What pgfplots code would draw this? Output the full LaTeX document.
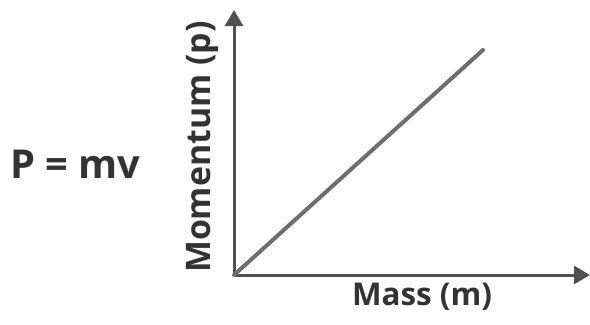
\documentclass[border=0pt]{standalone}
\usepackage{pgfplots}
\pgfplotsset{compat=1.18}
\usepackage{fontspec}
\setmainfont{Open Sans}[BoldFont={* Bold}]
\usetikzlibrary{arrows.meta}
\definecolor{axisgray}{HTML}{505050}
\definecolor{linegray}{HTML}{6E6E6E}
\definecolor{textgray}{HTML}{333333}
\begin{document}
\begin{tikzpicture}[x=1bp,y=1bp]
\path[use as bounding box] (0,0) rectangle (590,324);
\begin{axis}[
  anchor=origin, at={(234bp,49bp)},
  scale only axis, x=1bp, y=1bp,
  xmin=0, xmax=356, ymin=0, ymax=265,
  axis lines=left,
  axis line style={color=axisgray, line width=3bp, -{Triangle[width=18bp,length=16bp]}},
  xtick=\empty, ytick=\empty,
  clip=false,
  xlabel={\bfseries Mass (m)},
  ylabel={\bfseries Momentum (p)},
  xlabel style={at={(axis cs:188,-30)}, anchor=base, font=\fontsize{31.5}{34}\selectfont, text=textgray},
  ylabel style={at={(axis cs:-24,128)}, anchor=base, rotate=0, font=\fontsize{34}{38}\selectfont, text=textgray},
]
\addplot[color=linegray, line width=4bp, line cap=round] coordinates {(0,0) (249,225)};
\end{axis}
\node[anchor=base west, inner sep=0pt, text=textgray, font=\fontsize{40}{44}\selectfont\bfseries] at (10,146) {P = mv};
\end{tikzpicture}
\end{document}
